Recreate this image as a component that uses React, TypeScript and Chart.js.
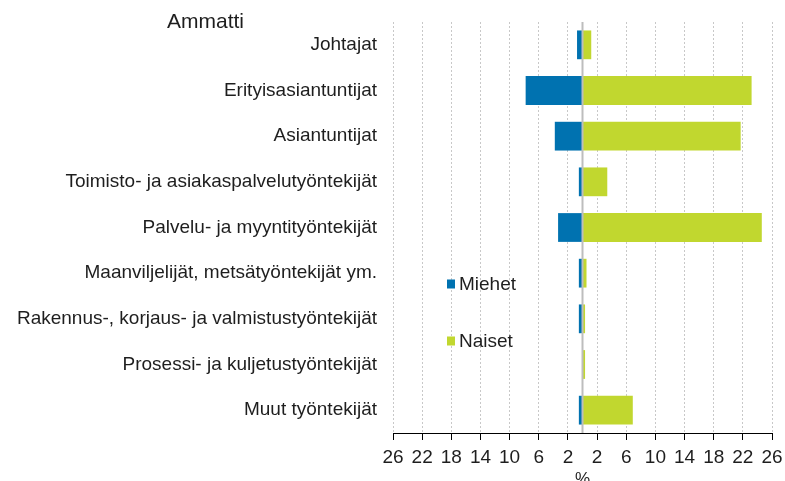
import React, { useEffect, useRef } from 'react';
import { Chart, registerables } from 'chart.js';

Chart.register(...registerables);

const categories = [
  'Johtajat',
  'Erityisasiantuntijat',
  'Asiantuntijat',
  'Toimisto- ja asiakaspalvelutyöntekijät',
  'Palvelu- ja myyntityöntekijät',
  'Maanviljelijät, metsätyöntekijät ym.',
  'Rakennus-, korjaus- ja valmistustyöntekijät',
  'Prosessi- ja kuljetustyöntekijät',
  'Muut työntekijät',
];
const miehet = [-0.75, -7.8, -3.8, -0.5, -3.35, -0.5, -0.5, -0.05, -0.5];
const naiset = [1.2, 23.2, 21.7, 3.4, 24.6, 0.55, 0.35, 0.35, 6.9];
const xTicks = [-26, -22, -18, -14, -10, -6, -2, 2, 6, 10, 14, 18, 22, 26];
const seriesNames = ['Miehet', 'Naiset'];
const axisTitleY = 'Ammatti';
const axisTitleX = '%';

const BLUE = '#0072B0';
const GREEN = '#C1D72F';
const TEXT = '#1e1e1e';
const FONT = "'Liberation Sans', Arial, sans-serif";

const extrasPlugin = {
  id: 'extras',
  afterDatasetsDraw(chart: any) {
    const { ctx, chartArea, scales } = chart;
    const x0 = scales.x.getPixelForValue(0);
    ctx.save();
    ctx.strokeStyle = '#bdbdbd';
    ctx.lineWidth = 2;
    ctx.beginPath();
    ctx.moveTo(x0, chartArea.top);
    ctx.lineTo(x0, chartArea.bottom);
    ctx.stroke();
    ctx.restore();
  },
  afterDraw(chart: any) {
    const { ctx } = chart;
    ctx.save();
    ctx.fillStyle = TEXT;
    ctx.textBaseline = 'middle';
    ctx.textAlign = 'left';
    ctx.font = `21px ${FONT}`;
    ctx.fillText(axisTitleY, 167, 22);
    const items = chart.data.datasets;
    const ys = [284, 341];
    items.forEach((ds: any, i: number) => {
      ctx.fillStyle = ds.backgroundColor;
      ctx.fillRect(447, ys[i] - 4.5, 8, 9);
      ctx.fillStyle = TEXT;
      ctx.font = `19px ${FONT}`;
      ctx.fillText(ds.label, 459, ys[i] + 1);
    });
    ctx.restore();
  },
};

export default function App() {
  const ref = useRef<HTMLCanvasElement | null>(null);
  useEffect(() => {
    document.body.style.margin = '0';
    const canvas = ref.current;
    if (!canvas) return;
    const chart = new Chart(canvas, {
      type: 'bar',
      data: {
        labels: categories,
        datasets: [
          { label: seriesNames[0], data: miehet, backgroundColor: BLUE, barPercentage: 0.63, categoryPercentage: 1 },
          { label: seriesNames[1], data: naiset, backgroundColor: GREEN, barPercentage: 0.63, categoryPercentage: 1 },
        ],
      },
      options: {
        indexAxis: 'y',
        animation: false,
        responsive: false,
        devicePixelRatio: 1,
        layout: { padding: { top: 22, right: 13, bottom: 0, left: 0 } },
        plugins: {
          legend: { display: false },
          tooltip: { enabled: false },
          title: { display: false },
        },
        scales: {
          x: {
            type: 'linear',
            stacked: true,
            min: -26,
            max: 26,
            afterBuildTicks: (scale: any) => {
              scale.ticks = xTicks.map((v) => ({ value: v }));
            },
            afterFit: (scale: any) => {
              scale.height = 48;
              scale.paddingLeft = 0;
              scale.paddingRight = 0;
            },
            ticks: {
              color: TEXT,
              font: { family: FONT, size: 19 },
              padding: 6,
              maxRotation: 0,
              autoSkip: false,
              callback: (v: any) => String(Math.abs(Number(v))),
            },
            grid: {
              color: '#c8c8c8',
              lineWidth: 1,
              tickColor: '#000000',
              tickLength: 7,
              tickBorderDash: [],
              drawTicks: true,
            },
            border: { display: true, color: '#000000', width: 1, dash: [2, 2] },
            title: {
              display: true,
              text: axisTitleX,
              color: TEXT,
              font: { family: FONT, size: 17 },
              padding: { top: 0, bottom: -9 },
            },
          },
          y: {
            type: 'category',
            stacked: true,
            afterFit: (scale: any) => {
              scale.width = 393;
              scale.paddingTop = 0;
              scale.paddingBottom = 0;
            },
            ticks: {
              color: TEXT,
              font: { family: FONT, size: 19 },
              padding: 16,
              autoSkip: false,
            },
            grid: { display: false, drawTicks: false },
            border: { display: false },
          },
        },
      },
      plugins: [extrasPlugin],
    } as any);
    return () => chart.destroy();
  }, []);
  return <canvas ref={ref} width={785} height={481} style={{ display: 'block' }} />;
}
